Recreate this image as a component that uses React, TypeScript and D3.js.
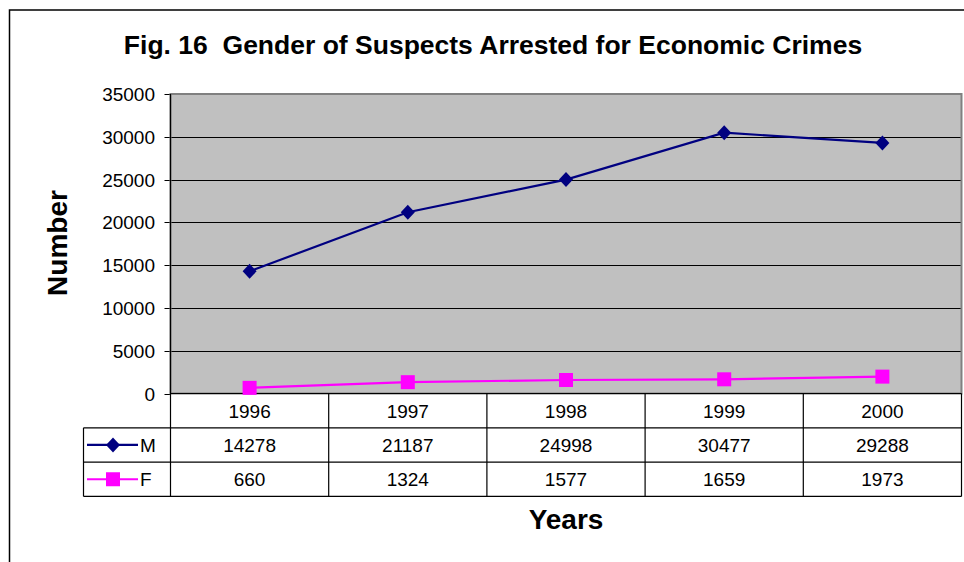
import React from "react";
import * as d3 from "d3";

const years = ["1996", "1997", "1998", "1999", "2000"];
const maleValues = [14278, 21187, 24998, 30477, 29288];
const femaleValues = [660, 1324, 1577, 1659, 1973];
const yTicks = [0, 5000, 10000, 15000, 20000, 25000, 30000, 35000];
const seriesNames = ["M", "F"];
const titleText = "Fig. 16  Gender of Suspects Arrested for Economic Crimes";

const W = 964;
const H = 562;
const plotL = 170.5;
const plotR = 961.5;
const plotT = 94;
const plotB = 393.5;
const rowH = 34.3;
const legendL = 83.5;
const FONT = "Arial, 'Liberation Sans', sans-serif";
const FS = 19;

export default function App() {
  const x = d3.scaleBand<string>().domain(years).range([plotL, plotR]);
  const y = d3.scaleLinear().domain([0, 35000]).range([plotB, plotT]);
  const line = d3
    .line<number>()
    .x((_, i) => (x(years[i]) as number) + x.bandwidth() / 2)
    .y((d) => y(d));

  const series = [
    { name: seriesNames[0], values: maleValues, color: "#000080", marker: "diamond" },
    { name: seriesNames[1], values: femaleValues, color: "#FF00FF", marker: "square" },
  ];

  const marker = (kind: string, cx: number, cy: number, color: string, key: string) =>
    kind === "diamond" ? (
      <path key={key} d={`M${cx},${cy - 7.5}L${cx + 7},${cy}L${cx},${cy + 7.5}L${cx - 7},${cy}Z`} fill={color} />
    ) : (
      <rect key={key} x={cx - 7} y={cy - 7} width={14} height={14} fill={color} />
    );

  const tableBottom = plotB + rowH * 3;

  return (
    <svg
      width={W}
      height={H}
      style={{ position: "absolute", left: 0, top: 0, background: "#fff" }}
      fontFamily={FONT}
    >
      <rect x={0} y={0} width={W} height={H} fill="#fff" />
      <rect x={9.5} y={10} width={W} height={H} fill="none" stroke="#000" strokeWidth={1.5} />
      <text x={493} y={54} textAnchor="middle" fontSize={26.5} fontWeight="bold" style={{ whiteSpace: "pre" }}>
        {titleText}
      </text>

      {/* plot area */}
      <rect x={plotL} y={plotT} width={plotR - plotL} height={plotB - plotT} fill="#C0C0C0" />
      {yTicks.map((t) => (
        <g key={t}>
          {t > 0 && t < 35000 && (
            <line x1={plotL} x2={plotR} y1={Math.round(y(t)) + 0.5} y2={Math.round(y(t)) + 0.5} stroke="#000" strokeWidth={1} />
          )}
          <line x1={plotL - 6} x2={plotL} y1={Math.round(y(t)) + 0.5} y2={Math.round(y(t)) + 0.5} stroke="#000" strokeWidth={1} />
          <text x={155} y={y(t) + 7} textAnchor="end" fontSize={FS}>
            {t}
          </text>
        </g>
      ))}
      <rect x={plotL} y={plotT} width={plotR - plotL} height={plotB - plotT} fill="none" stroke="#808080" strokeWidth={2} />
      <line x1={plotL} x2={plotL} y1={plotT} y2={tableBottom} stroke="#000" strokeWidth={1.2} />
      <line x1={plotL} x2={plotR} y1={plotB} y2={plotB} stroke="#000" strokeWidth={1.2} />

      {series.map((s) => (
        <g key={s.name}>
          <path d={line(s.values) || ""} fill="none" stroke={s.color} strokeWidth={2.2} />
          {s.values.map((v, i) =>
            marker(s.marker, (x(years[i]) as number) + x.bandwidth() / 2, y(v), s.color, s.name + i)
          )}
        </g>
      ))}

      {/* data table */}
      {[1, 2, 3].map((r) => (
        <line key={r} x1={legendL} x2={plotR} y1={plotB + rowH * r} y2={plotB + rowH * r} stroke="#000" strokeWidth={1.2} />
      ))}
      <line x1={legendL} x2={legendL} y1={plotB + rowH} y2={tableBottom} stroke="#000" strokeWidth={1.2} />
      {years.map((yr) => (
        <line
          key={yr}
          x1={(x(yr) as number) + x.bandwidth()}
          x2={(x(yr) as number) + x.bandwidth()}
          y1={plotB}
          y2={tableBottom}
          stroke="#000"
          strokeWidth={1.2}
        />
      ))}
      {years.map((yr) => (
        <text key={yr} x={(x(yr) as number) + x.bandwidth() / 2} y={plotB + rowH / 2 + 7} textAnchor="middle" fontSize={FS}>
          {yr}
        </text>
      ))}
      {series.map((s, r) => {
        const cy = plotB + rowH * (r + 1) + rowH / 2;
        return (
          <g key={s.name}>
            <line x1={87} x2={138} y1={cy} y2={cy} stroke={s.color} strokeWidth={2.2} />
            {marker(s.marker, 113, cy, s.color, "leg" + s.name)}
            <text x={140} y={cy + 7} fontSize={FS}>
              {s.name}
            </text>
            {s.values.map((v, i) => (
              <text key={i} x={(x(years[i]) as number) + x.bandwidth() / 2} y={cy + 7} textAnchor="middle" fontSize={FS}>
                {v}
              </text>
            ))}
          </g>
        );
      })}

      <text x={566} y={529} textAnchor="middle" fontSize={28} fontWeight="bold">
        Years
      </text>
      <text
        transform={`translate(67,243) rotate(-90)`}
        textAnchor="middle"
        fontSize={28}
        fontWeight="bold"
      >
        Number
      </text>
    </svg>
  );
}
